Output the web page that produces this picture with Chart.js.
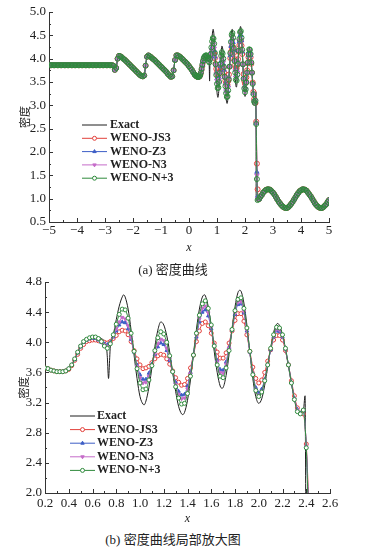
<!DOCTYPE html>
<html>
<head>
<meta charset="utf-8">
<script src="https://cdn.jsdelivr.net/npm/chart.js@4/dist/chart.umd.min.js"></script>
<style>
  html, body { margin: 0; padding: 0; background: #fff; }
  body { width: 368px; height: 548px; position: relative; overflow: hidden; }
  .panel { position: absolute; left: 0; }
  .cap { position: absolute; left: 0; width: 346px; text-align: center; line-height: 16px;
         font: 13px "Liberation Serif", "Noto Sans CJK SC", serif; color: #222; z-index: 2; }
</style>
</head>
<body>
<div class="panel" style="top:0"><canvas id="chartA" width="368" height="256"></canvas></div>
<div class="cap" style="top:259px">(a) 密度曲线</div>
<div class="panel" style="top:270px"><canvas id="chartB" width="368" height="257"></canvas></div>
<div class="cap" style="top:529px">(b) 密度曲线局部放大图</div>
<script>
// left part (x < 0.2): all schemes and the exact curve lie on top of each other
const xLeft = [
  -5.00,-4.95,-4.90,-4.85,-4.80,-4.75,-4.70,-4.65,-4.60,-4.55,
  -4.50,-4.45,-4.40,-4.35,-4.30,-4.25,-4.20,-4.15,-4.10,-4.05,
  -4.00,-3.95,-3.90,-3.85,-3.80,-3.75,-3.70,-3.65,-3.60,-3.55,
  -3.50,-3.45,-3.40,-3.35,-3.30,-3.25,-3.20,-3.15,-3.10,-3.05,
  -3.00,-2.95,-2.90,-2.85,-2.80,-2.75,
  -2.70,-2.65,-2.60,-2.55,-2.50,-2.45,-2.40,-2.35,-2.30,-2.25,
  -2.20,-2.15,-2.10,-2.05,-2.00,-1.95,-1.90,-1.85,-1.80,-1.75,
  -1.70,-1.65,-1.60,-1.55,-1.50,-1.45,-1.40,-1.35,-1.30,-1.25,
  -1.20,-1.15,-1.10,-1.05,-1.00,-0.95,-0.90,-0.85,-0.80,-0.75,
  -0.70,-0.65,-0.60,-0.55,-0.50,-0.45,-0.40,-0.35,-0.30,-0.25,
  -0.20,-0.15,-0.10,-0.05,0.00,0.05,0.10,0.15
];
const rhoLeft = [
  3.86,3.86,3.86,3.86,3.86,3.86,3.86,3.86,3.86,3.86,
  3.86,3.86,3.86,3.86,3.86,3.86,3.86,3.86,3.86,3.86,
  3.86,3.86,3.86,3.86,3.86,3.86,3.86,3.86,3.86,3.86,
  3.86,3.86,3.86,3.86,3.86,3.86,3.86,3.86,3.86,3.86,
  3.86,3.86,3.86,3.86,3.86,3.86,
  3.85,3.76,3.80,4.00,4.06,4.05,4.03,4.00,3.98,3.95,
  3.92,3.89,3.86,3.83,3.80,3.77,3.74,3.71,3.68,3.65,
  3.63,3.62,3.64,3.85,4.04,4.07,4.05,4.03,4.00,3.98,
  3.95,3.92,3.89,3.86,3.83,3.80,3.77,3.74,3.71,3.67,
  3.64,3.61,3.62,3.75,3.97,4.07,4.07,4.05,4.03,4.00,
  3.97,3.94,3.91,3.88,3.84,3.80,3.76,3.71
];

// zoomed part, grid of the schemes
const xZoom = [
  0.200,0.225,0.250,0.275,0.300,0.325,0.350,0.375,0.400,0.425,
  0.450,0.475,0.500,0.525,0.550,0.575,0.600,0.625,0.650,0.675,
  0.700,0.725,0.750,0.775,0.800,0.825,0.850,0.875,0.900,0.925,
  0.950,0.975,1.000,1.025,1.050,1.075,1.100,1.125,1.150,1.175,
  1.200,1.225,1.250,1.275,1.300,1.325,1.350,1.375,1.400,1.425,
  1.450,1.475,1.500,1.525,1.550,1.575,1.600,1.625,1.650,1.675,
  1.700,1.725,1.750,1.775,1.800,1.825,1.850,1.875,1.900,1.925,
  1.950,1.975,2.000,2.025,2.050,2.075,2.100,2.125,2.150,2.175,
  2.200,2.225,2.250,2.275,2.300,2.325,2.350,2.375,2.400,2.425,
  2.450
];
const rhoJS3 = [
  3.66,3.65,3.63,3.62,3.61,3.61,3.61,3.62,3.64,3.69,
  3.76,3.84,3.92,3.97,4.01,4.02,4.03,4.03,4.02,4.01,
  4.00,3.99,4.01,4.05,4.09,4.14,4.16,4.15,4.10,4.01,
  3.89,3.78,3.70,3.65,3.66,3.68,3.73,3.78,3.82,3.84,
  3.83,3.78,3.71,3.62,3.53,3.47,3.43,3.44,3.52,3.66,
  3.83,4.01,4.15,4.25,4.27,4.22,4.12,3.99,3.87,3.79,
  3.79,3.86,3.99,4.15,4.29,4.38,4.38,4.28,4.10,3.88,
  3.67,3.52,3.46,3.50,3.60,3.75,3.90,4.03,4.09,4.09,
  4.03,3.89,3.70,3.49,3.29,3.13,3.06,3.05,2.65,1.75,
  1.20
];
const rhoZ3 = [
  3.66,3.65,3.63,3.62,3.61,3.61,3.61,3.62,3.65,3.70,
  3.77,3.86,3.94,4.00,4.03,4.05,4.05,4.05,4.03,4.00,
  3.98,3.97,4.00,4.07,4.15,4.23,4.27,4.26,4.18,4.04,
  3.87,3.70,3.57,3.51,3.51,3.59,3.71,3.84,3.94,3.99,
  3.97,3.89,3.76,3.61,3.47,3.35,3.30,3.31,3.42,3.60,
  3.84,4.07,4.27,4.40,4.43,4.35,4.18,3.96,3.76,3.64,
  3.63,3.74,3.93,4.16,4.37,4.50,4.51,4.39,4.15,3.87,
  3.59,3.40,3.33,3.38,3.51,3.70,3.90,4.07,4.15,4.14,
  4.07,3.91,3.70,3.47,3.26,3.11,3.06,3.10,2.62,1.57,
  1.05
];
const rhoN3 = [
  3.66,3.65,3.63,3.62,3.61,3.61,3.61,3.62,3.65,3.70,
  3.78,3.87,3.95,4.01,4.04,4.05,4.06,4.06,4.04,4.00,
  3.97,3.95,3.99,4.08,4.18,4.27,4.33,4.31,4.22,4.06,
  3.87,3.68,3.53,3.46,3.47,3.55,3.70,3.85,3.98,4.04,
  4.02,3.92,3.78,3.61,3.44,3.31,3.25,3.26,3.38,3.58,
  3.83,4.09,4.31,4.45,4.48,4.39,4.20,3.96,3.74,3.60,
  3.59,3.71,3.92,4.17,4.39,4.53,4.54,4.41,4.16,3.86,
  3.58,3.37,3.30,3.35,3.50,3.70,3.91,4.08,4.17,4.16,
  4.08,3.91,3.70,3.46,3.25,3.10,3.05,3.10,2.62,1.50,
  1.00
];
const rhoNP3 = [
  3.66,3.65,3.63,3.62,3.61,3.61,3.61,3.62,3.65,3.70,
  3.78,3.87,3.95,4.01,4.04,4.06,4.07,4.07,4.05,4.01,
  3.95,3.92,3.98,4.10,4.24,4.37,4.44,4.43,4.32,4.12,
  3.88,3.65,3.46,3.37,3.38,3.50,3.69,3.89,4.06,4.14,
  4.11,4.00,3.82,3.61,3.41,3.26,3.18,3.19,3.32,3.55,
  3.83,4.12,4.36,4.51,4.55,4.45,4.23,3.95,3.70,3.55,
  3.53,3.66,3.89,4.17,4.42,4.57,4.59,4.45,4.19,3.88,
  3.57,3.36,3.28,3.34,3.49,3.70,3.92,4.10,4.20,4.19,
  4.10,3.92,3.70,3.46,3.24,3.08,3.05,3.10,2.60,1.42,
  0.97
];

// exact solution in the zoomed part (own sample points)
const xExact = [
  0.200,0.225,0.250,0.275,0.300,0.325,0.350,0.375,0.400,0.425,
  0.450,0.475,0.500,0.525,0.550,0.575,0.600,0.625,0.650,0.675,
  0.700,0.715,0.725,0.735,0.745,0.750,0.775,0.800,0.825,0.850,
  0.8625,0.875,0.900,0.925,0.950,0.975,1.000,1.025,1.035,1.050,
  1.075,1.100,1.125,1.150,1.175,1.200,1.225,1.250,1.275,1.300,
  1.325,1.350,1.360,1.375,1.400,1.425,1.450,1.475,1.500,1.525,
  1.545,1.550,1.575,1.600,1.625,1.650,1.675,1.690,1.700,1.725,
  1.750,1.775,1.800,1.825,1.840,1.850,1.875,1.900,1.925,1.950,
  1.975,2.000,2.025,2.050,2.075,2.100,2.125,2.150,2.160,2.175,
  2.200,2.225,2.250,2.275,2.300,2.325,2.350,2.375,2.390,2.400,
  2.450
];
const rhoExact = [
  3.66,3.65,3.63,3.62,3.61,3.61,3.61,3.62,3.64,3.69,
  3.77,3.86,3.94,4.00,4.04,4.06,4.07,4.08,4.07,4.05,
  4.02,3.98,3.80,3.52,3.80,3.95,4.10,4.30,4.48,4.60,
  4.63,4.60,4.44,4.16,3.83,3.52,3.28,3.18,3.17,3.22,
  3.40,3.66,3.94,4.16,4.27,4.23,4.09,3.87,3.60,3.35,
  3.15,3.05,3.04,3.07,3.23,3.50,3.84,4.17,4.44,4.60,
  4.63,4.62,4.47,4.20,3.88,3.60,3.42,3.39,3.40,3.56,
  3.84,4.18,4.47,4.66,4.69,4.68,4.52,4.23,3.87,3.52,
  3.28,3.19,3.25,3.43,3.67,3.92,4.13,4.24,4.25,4.22,
  4.10,3.90,3.68,3.45,3.25,3.10,3.06,3.08,3.29,0.96,
  0.94
];

// right part, behind the shock (shared)
const xRight = [
  2.50,2.55,2.60,2.65,2.70,2.75,2.80,2.85,2.90,2.95,
  3.00,3.05,3.10,3.15,3.20,3.25,3.30,3.35,3.40,3.45,
  3.50,3.55,3.60,3.65,3.70,3.75,3.80,3.85,3.90,3.95,
  4.00,4.05,4.10,4.15,4.20,4.25,4.30,4.35,4.40,4.45,
  4.50,4.55,4.60,4.65,4.70,4.75,4.80,4.85,4.90,4.95,
  5.00
];
const rhoRight = [
  0.99,1.04,1.08,1.13,1.16,1.19,1.20,1.20,1.19,1.16,
  1.13,1.09,1.04,0.99,0.94,0.90,0.86,0.83,0.81,0.80,
  0.80,0.82,0.85,0.89,0.93,0.98,1.03,1.08,1.12,1.16,
  1.18,1.20,1.20,1.19,1.17,1.13,1.09,1.05,1.00,0.95,
  0.90,0.86,0.83,0.81,0.80,0.80,0.82,0.85,0.88,0.93,
  0.97
];

const seriesNames = ["Exact", "WENO-JS3", "WENO-Z3", "WENO-N3", "WENO-N+3"];
const xTicksA = [-5, -4, -3, -2, -1, 0, 1, 2, 3, 4, 5];
const yTicksA = [0.5, 1.0, 1.5, 2.0, 2.5, 3.0, 3.5, 4.0, 4.5, 5.0];
const xTicksB = [0.2, 0.4, 0.6, 0.8, 1.0, 1.2, 1.4, 1.6, 1.8, 2.0, 2.2, 2.4, 2.6];
const yTicksB = [2.0, 2.4, 2.8, 3.2, 3.6, 4.0, 4.4, 4.8];

const styles = [
  { color: "#1e1e1e" },
  { color: "#e2403b", pointStyle: "circle", hollow: true, rot: 0 },
  { color: "#3d5ec6", pointStyle: "triangle", hollow: false, rot: 0 },
  { color: "#c56bc9", pointStyle: "triangle", hollow: false, rot: 180 },
  { color: "#2f8a3c", pointStyle: "circle", hollow: true, rot: 0 }
];

function pts(xs, ys) { return xs.map((x, i) => ({ x: x, y: ys[i] })); }
function fullSeries(zx, zy) { return pts(xLeft, rhoLeft).concat(pts(zx, zy), pts(xRight, rhoRight)); }

function makeDatasets(radius, hollowFill) {
  const zoomSets = [[xExact, rhoExact], [xZoom, rhoJS3], [xZoom, rhoZ3], [xZoom, rhoN3], [xZoom, rhoNP3]];
  return zoomSets.map((z, i) => {
    const s = styles[i];
    return {
      label: seriesNames[i],
      data: fullSeries(z[0], z[1]),
      borderColor: s.color,
      borderWidth: 1,
      pointRadius: i === 0 ? 0 : radius,
      pointStyle: s.pointStyle || "circle",
      pointRotation: s.rot || 0,
      pointBackgroundColor: s.hollow ? hollowFill : s.color,
      pointBorderColor: s.color,
      pointBorderWidth: 1,
      hollow: !!s.hollow,
      cubicInterpolationMode: "monotone",
      order: 5 - i
    };
  });
}

// ticks pointing into the plot, with one minor tick between majors
const inTicks = {
  id: "inTicks",
  afterDraw(chart, args, o) {
    const { ctx, chartArea: a, scales } = chart;
    const line = (x1, y1, x2, y2) => { ctx.beginPath(); ctx.moveTo(x1, y1); ctx.lineTo(x2, y2); ctx.stroke(); };
    ctx.save();
    ctx.strokeStyle = "#333";
    ctx.lineWidth = 1;
    o.xt.forEach((v, i) => {
      const p = Math.round(scales.x.getPixelForValue(v)) + 0.5;
      line(p, a.bottom, p, a.bottom - 4);
      if (i < o.xt.length - 1) {
        const q = Math.round(scales.x.getPixelForValue((v + o.xt[i + 1]) / 2)) + 0.5;
        line(q, a.bottom, q, a.bottom - 2);
      }
    });
    o.yt.forEach((v, i) => {
      const p = Math.round(scales.y.getPixelForValue(v)) + 0.5;
      line(a.left, p, a.left + 4, p);
      if (i < o.yt.length - 1) {
        const q = Math.round(scales.y.getPixelForValue((v + o.yt[i + 1]) / 2)) + 0.5;
        line(a.left, q, a.left + 2, q);
      }
    });
    ctx.restore();
  }
};

// legend: short line with the marker in its middle, then the name
const lineLegend = {
  id: "lineLegend",
  afterDraw(chart, args, o) {
    const ctx = chart.ctx;
    ctx.save();
    ctx.font = "bold 12px 'Liberation Serif'";
    ctx.textBaseline = "middle";
    chart.data.datasets.forEach((ds, i) => {
      const y = o.y0 + i * o.dy;
      ctx.strokeStyle = ds.borderColor;
      ctx.lineWidth = 1;
      ctx.beginPath(); ctx.moveTo(o.x0, y); ctx.lineTo(o.x0 + o.len, y); ctx.stroke();
      if (ds.pointRadius > 0) {
        ctx.fillStyle = ds.hollow ? "#ffffff" : ds.pointBackgroundColor;
        ctx.strokeStyle = ds.pointBorderColor;
        Chart.helpers.drawPoint(ctx, { pointStyle: ds.pointStyle, radius: 2, rotation: ds.pointRotation, borderWidth: 1 },
          o.x0 + o.len / 2, y);
      }
      ctx.fillStyle = "#222";
      ctx.fillText(ds.label, o.x0 + o.len + o.gap, y);
    });
    ctx.restore();
  }
};

function makeChart(id, r) {
  const tickFont = { family: "Liberation Serif", size: 13 };
  return new Chart(document.getElementById(id), {
    type: "line",
    data: { datasets: makeDatasets(r.radius, r.hollowFill) },
    options: {
      responsive: false,
      animation: false,
      devicePixelRatio: 1,
      layout: { padding: { top: 12, right: r.padRight, left: 0, bottom: 0 } },
      plugins: {
        legend: { display: false },
        tooltip: { enabled: false },
        inTicks: { xt: r.xt, yt: r.yt },
        lineLegend: r.legend
      },
      scales: {
        x: {
          type: "linear", min: r.xt[0], max: r.xt[r.xt.length - 1],
          afterBuildTicks: s => { s.ticks = r.xt.map(v => ({ value: v })); },
          afterFit: s => { s.height = 34; },
          grid: { display: false, drawTicks: false },
          border: { display: true, color: "#333", width: 1 },
          ticks: { padding: r.xPad, font: tickFont, color: "#222", maxRotation: 0, autoSkip: false, callback: r.fmtX },
          title: { display: true, text: "x", color: "#222",
                   font: { family: "Liberation Serif", size: 12, style: "italic" }, padding: { top: 0, bottom: 1 } }
        },
        y: {
          type: "linear", min: r.yt[0], max: r.yt[r.yt.length - 1],
          afterBuildTicks: s => { s.ticks = r.yt.map(v => ({ value: v })); },
          afterFit: s => { s.width = r.yWidth; },
          grid: { display: false, drawTicks: false },
          border: { display: true, color: "#333", width: 1 },
          ticks: { padding: 3, font: tickFont, color: "#222", autoSkip: false, callback: v => v.toFixed(1) },
          title: { display: true, text: "密度", color: "#222",
                   font: { family: "Noto Sans CJK SC", size: 11 }, padding: { top: r.titlePad, bottom: 0 } }
        }
      }
    },
    plugins: [inTicks, lineLegend]
  });
}

makeChart("chartA", {
  radius: 2.5, hollowFill: "rgba(255,255,255,0)", padRight: 39, yWidth: 49, xPad: 1, titlePad: 18,
  xt: xTicksA, yt: yTicksA,
  fmtX: v => (v < 0 ? "\u2212" + (-v) : String(v)),
  legend: { x0: 82, y0: 125, dy: 13.3, len: 25, gap: 3 }
});
makeChart("chartB", {
  radius: 2, hollowFill: "#ffffff", padRight: 38, yWidth: 45, xPad: 3, titlePad: 17,
  xt: xTicksB, yt: yTicksB,
  fmtX: v => v.toFixed(1),
  legend: { x0: 70, y0: 146, dy: 13.6, len: 25, gap: 2 }
});
</script>
</body>
</html>
